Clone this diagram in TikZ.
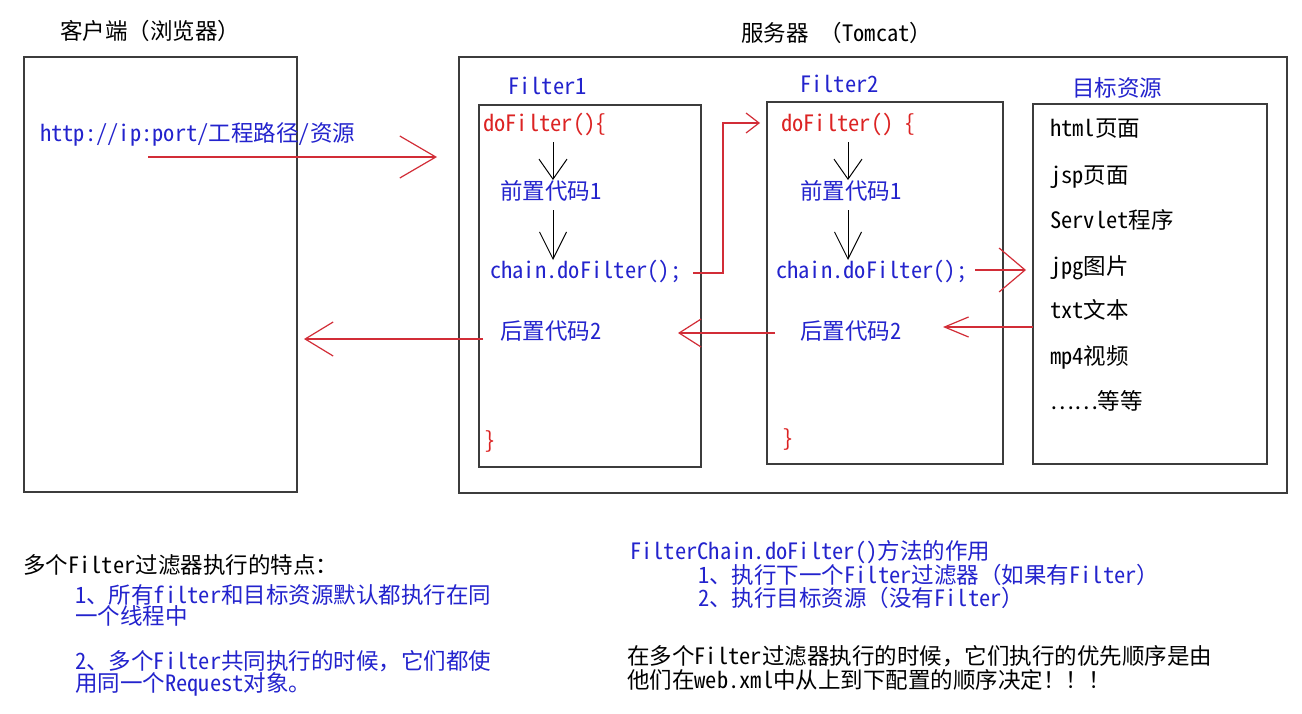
\documentclass[tikz,border=0pt]{standalone}
\usepackage{fontspec}
\setmainfont{Noto Sans Mono CJK SC}
\usetikzlibrary{arrows.meta}
\definecolor{tblue}{RGB}{35,35,205}
\definecolor{tred}{RGB}{220,35,35}
\definecolor{ared}{RGB}{210,45,55}
\definecolor{boxgray}{RGB}{60,60,60}
\tikzset{
  frame/.style={draw=boxgray, line width=1.6pt},
  txt/.style={anchor=west, inner sep=0pt, font=\fontsize{22.5}{22.5}\selectfont, text height=16pt, text depth=4pt},
  btxt/.style={txt, text=tblue},
  rtxt/.style={txt, text=tred},
  ktxt/.style={txt, text=black},
  redline/.style={draw=ared, line width=1.2pt},
  darr/.style={draw=black, line width=1pt},
}
\begin{document}
\begin{tikzpicture}[x=1pt,y=-1pt]
\useasboundingbox[fill=white] (0,0) rectangle (1302,713);

% boxes
\draw[frame] (24,57) rectangle (297,492);
\draw[frame] (459,57) rectangle (1287,493);
\draw[frame] (479,105) rectangle (701,467);
\draw[frame] (767,102) rectangle (1003,464);
\draw[frame] (1033,104) rectangle (1267,464);

% titles
\node[ktxt] (tclient) at (60,33) {客户端（浏览器）};
\node[ktxt] (tserver) at (741,35) {服务器 （Tomcat）};
\node[btxt] (url) at (40,135) {http://ip:port/工程路径/资源};
\node[btxt] (tf1) at (508,88) {Filter1};
\node[btxt] (tf2) at (800,86) {Filter2};
\node[btxt] (ttarget) at (1072,90) {目标资源};

% filter 1
\node[rtxt] (do1) at (483,125) {doFilter()\{};
\node[btxt] (pre1) at (500,193) {前置代码1};
\node[btxt] (chain1) at (490,272) {chain.doFilter();};
\node[btxt] (post1) at (500,333) {后置代码2};
\node[rtxt] (end1) at (484,442) {\}};

% filter 2
\node[rtxt] (do2) at (781,125) {doFilter() \{};
\node[btxt] (pre2) at (800,193) {前置代码1};
\node[btxt] (chain2) at (776,272) {chain.doFilter();};
\node[btxt] (post2) at (800,333) {后置代码2};
\node[rtxt] (end2) at (782,440) {\}};

% target resources
\node[ktxt] (r1) at (1050,130) {html页面};
\node[ktxt] (r2) at (1050,177) {jsp页面};
\node[ktxt] (r3) at (1050,222) {Servlet程序};
\node[ktxt] (r4) at (1050,268) {jpg图片};
\node[ktxt] (r5) at (1050,312) {txt文本};
\node[ktxt] (r6) at (1050,358) {mp4视频};
\node[ktxt] (r7) at (1050,403) {……等等};

% bottom notes
\node[ktxt] (n0) at (23,567) {多个Filter过滤器执行的特点：};
\node[btxt] (n1) at (75,597) {1、所有filter和目标资源默认都执行在同};
\node[btxt] (n1b) at (75,618) {一个线程中};
\node[btxt] (n2) at (75,663) {2、多个Filter共同执行的时候，它们都使};
\node[btxt] (n2b) at (75,685) {用同一个Request对象。};

\node[btxt] (m0) at (630,553) {FilterChain.doFilter()方法的作用};
\node[btxt] (m1) at (698,577) {1、执行下一个Filter过滤器（如果有Filter）};
\node[btxt] (m2) at (698,600) {2、执行目标资源（没有Filter）};
\node[ktxt] (m3) at (627,658) {在多个Filter过滤器执行的时候，它们执行的优先顺序是由};
\node[ktxt] (m4) at (627,682) {他们在web.xml中从上到下配置的顺序决定！！！};

% connector points
\coordinate (a1s) at (148,157);
\coordinate (a1e) at (437,157);
\coordinate (a2s) at (693,273);
\coordinate (a2m1) at (723,273);
\coordinate (a2m2) at (723,123);
\coordinate (a2e) at (760,123);
\coordinate (a3s) at (975,270);
\coordinate (a3e) at (1026,270);
\coordinate (a4s) at (1033,327);
\coordinate (a4e) at (943,327);
\coordinate (a5s) at (775,333);
\coordinate (a5e) at (678,333);
\coordinate (a6s) at (483,339);
\coordinate (a6e) at (304,339);

% red connectors
\draw[redline, -{Straight Barb[length=36pt,width=42pt,line width=1.2pt]}] (a1s) -- (a1e);
\draw[redline, -{Straight Barb[length=13pt,width=20pt,line width=1.2pt]}] (a2s) -- (a2m1) -- (a2m2) -- (a2e);
\draw[redline, -{Straight Barb[length=26pt,width=44pt,line width=1.2pt]}] (a3s) -- (a3e);
\draw[redline, -{Straight Barb[length=24pt,width=20pt,line width=1.2pt]}] (a4s) -- (a4e);
\draw[redline, -{Straight Barb[length=22pt,width=28pt,line width=1.2pt]}] (a5s) -- (a5e);
\draw[redline, -{Straight Barb[length=28pt,width=34pt,line width=1.2pt]}] (a6s) -- (a6e);

% black down arrows inside filters
\coordinate (d1a) at (553,142); \coordinate (d1b) at (553,180);
\coordinate (d2a) at (553,210); \coordinate (d2b) at (553,260);
\coordinate (d3a) at (848,142); \coordinate (d3b) at (848,180);
\coordinate (d4a) at (848,210); \coordinate (d4b) at (848,260);
\draw[darr, -{Straight Barb[length=20pt,width=28pt,line width=1pt]}] (d1a) -- (d1b);
\draw[darr, -{Straight Barb[length=27pt,width=27pt,line width=1pt]}] (d2a) -- (d2b);
\draw[darr, -{Straight Barb[length=20pt,width=28pt,line width=1pt]}] (d3a) -- (d3b);
\draw[darr, -{Straight Barb[length=27pt,width=27pt,line width=1pt]}] (d4a) -- (d4b);
\end{tikzpicture}
\end{document}
